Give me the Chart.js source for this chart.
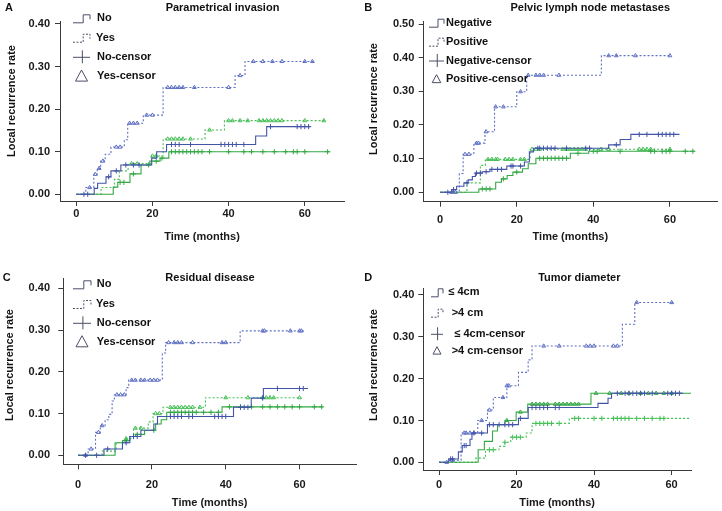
<!DOCTYPE html>
<html>
<head>
<meta charset="utf-8">
<script src="https://cdn.jsdelivr.net/npm/chart.js@4.4.1/dist/chart.umd.min.js"></script>
<style>
html, body { margin: 0; padding: 0; background: #fff; }
#wrap { position: relative; width: 722px; height: 511px; overflow: hidden; }
.panel { position: absolute; }
</style>
</head>
<body>
<div id="wrap">
  <div class="panel" style="left:0;top:0"><canvas id="cA" width="361" height="255"></canvas></div>
  <div class="panel" style="left:361px;top:0"><canvas id="cB" width="361" height="255"></canvas></div>
  <div class="panel" style="left:0;top:255px"><canvas id="cC" width="361" height="256"></canvas></div>
  <div class="panel" style="left:361px;top:255px"><canvas id="cD" width="361" height="256"></canvas></div>
</div>
<script>
// ---- data (time in months, cumulative local recurrence) ----

// A: Parametrical invasion
const A_noBlue_t = [0, 4.7, 5.6, 7.8, 9.1, 11.7, 19.8, 21.1, 23.7, 47.1, 50.0, 61.5];
const A_noBlue_v = [0, 0.014, 0.026, 0.041, 0.055, 0.069, 0.085, 0.100, 0.117, 0.137, 0.159, 0.159];
const A_noBlue_c = [2, 3, 8.5, 10.5, 13, 15, 16.5, 25, 26, 27, 30, 38, 39, 40, 41, 42, 44, 51, 58, 59, 60, 61];
const A_yesBlue_t = [0, 2.5, 4.6, 5.5, 6.4, 7.6, 9.1, 12.6, 13.5, 17.6, 22.8, 41.7, 44.3, 62.5];
const A_yesBlue_v = [0, 0.016, 0.047, 0.061, 0.078, 0.094, 0.111, 0.128, 0.167, 0.186, 0.251, 0.279, 0.312, 0.312];
const A_yesBlue_c = [3.5, 5, 6, 7, 10.5, 11.5, 14, 15, 16, 18.5, 20, 24, 25, 26, 27, 28, 31, 40, 43, 46.5, 49, 51.5, 54, 60, 62];
const A_noGreen_t = [0, 9.7, 10.9, 14.1, 17, 19.3, 22, 24.3, 66.6];
const A_noGreen_v = [0, 0.017, 0.028, 0.048, 0.069, 0.078, 0.085, 0.100, 0.100];
const A_noGreen_c = [11.5, 12.5, 15, 19, 21, 22.5, 25, 26, 27, 28, 29, 30, 31, 32, 33, 35, 40, 44, 46, 49, 52, 55, 57, 58, 60, 66];
const A_yesGreen_t = [0, 6.5, 10, 11.3, 13.6, 19.8, 22.8, 33.8, 38.9, 65.7];
const A_yesGreen_v = [0, 0.016, 0.035, 0.055, 0.072, 0.09, 0.13, 0.151, 0.173, 0.173];
const A_yesGreen_c = [14.5, 16, 20, 21, 24, 25, 26, 27, 28, 30, 35, 40, 41, 43, 45, 48, 49, 50, 51, 52, 53, 54, 60, 65];

// B: Pelvic lymph node metastases
const B_negBlue_t = [0, 3, 4.3, 6.2, 7.3, 8.4, 9.2, 11, 13, 17.4, 22, 23.3, 24.4, 44, 47, 49.8, 62.5];
const B_negBlue_v = [0, 0.008, 0.018, 0.028, 0.037, 0.047, 0.057, 0.061, 0.068, 0.078, 0.09, 0.12, 0.131, 0.141, 0.157, 0.172, 0.172];
const B_negBlue_c = [2, 3.5, 7, 9.5, 10.5, 12, 13.5, 15, 16, 18.5, 19, 21, 25.5, 26, 27, 28, 29, 30, 33, 38, 39, 46, 52, 54, 57, 58, 59, 60, 61];
const B_posBlue_t = [0, 5, 6, 8.8, 11.7, 14.2, 20, 22.6, 42.1, 60.3];
const B_posBlue_v = [0, 0.056, 0.113, 0.146, 0.18, 0.254, 0.299, 0.348, 0.406, 0.406];
const B_posBlue_c = [3, 4, 6.5, 7.5, 9.5, 10, 12, 14.5, 16.5, 21, 23, 25, 26, 27, 31, 44, 46, 51, 60];
const B_negGreen_t = [0, 10.1, 14.5, 16, 17.5, 19, 21.5, 23, 25, 34, 38.8, 66.4];
const B_negGreen_v = [0, 0.010, 0.030, 0.040, 0.05, 0.06, 0.07, 0.085, 0.101, 0.116, 0.122, 0.122];
const B_negGreen_c = [11, 12, 13, 16.5, 20, 26, 27, 28, 29, 30, 31, 32, 33, 36, 40, 41, 47, 55, 56, 58, 59, 60, 64, 66];
const B_posGreen_t = [0, 7, 10.5, 11.8, 23.5, 60.5];
const B_posGreen_v = [0, 0.028, 0.08, 0.098, 0.128, 0.128];
const B_posGreen_c = [12.5, 13.5, 14.5, 15, 17, 18, 19, 21, 22, 24, 25, 26, 32, 33, 34, 35, 36, 37, 38, 42, 44, 52, 53, 54, 55, 60];

// C: Residual disease
const C_noBlue_t = [0, 7, 12, 14, 17, 20.5, 21.5, 42.1, 46.9, 50.2, 62.3];
const C_noBlue_v = [0, 0.015, 0.03, 0.045, 0.06, 0.075, 0.093, 0.115, 0.137, 0.16, 0.16];
const C_noBlue_c = [2, 5, 8, 13, 15, 16, 25, 26, 27, 28, 30, 31, 37, 38, 39, 40, 44, 45, 46, 50, 54, 60, 61];
const C_yesBlue_t = [0, 2.7, 4.7, 6, 7.3, 8.3, 9.2, 9.8, 13, 13.7, 22.8, 23.7, 43.9, 61.4];
const C_yesBlue_v = [0, 0.015, 0.055, 0.071, 0.085, 0.098, 0.13, 0.145, 0.162, 0.18, 0.245, 0.27, 0.298, 0.298];
const C_yesBlue_c = [2, 3.5, 5.5, 6.5, 10.5, 11.5, 12.5, 14.5, 15.5, 17, 18, 19.5, 20.5, 21.5, 24.5, 26, 27, 28, 31, 39, 40, 50, 50.5, 57.5, 60, 60.5];
const C_noGreen_t = [0, 10, 12, 14, 15.5, 18, 21, 22.5, 24, 39, 66.3];
const C_noGreen_v = [0, 0.03, 0.035, 0.045, 0.05, 0.06, 0.075, 0.085, 0.103, 0.116, 0.116];
const C_noGreen_c = [13, 16, 20.5, 25, 26, 27, 28, 29, 30, 31, 32, 34, 36, 38, 41, 44, 47, 50, 52, 54, 56, 58, 60, 64, 66];
const C_yesGreen_t = [0, 6.5, 10.3, 12.5, 15, 19, 20.3, 23, 34.5, 60.5];
const C_yesGreen_v = [0, 0.01, 0.03, 0.04, 0.065, 0.08, 0.10, 0.115, 0.138, 0.138];
const C_yesGreen_c = [13, 15.5, 17, 21, 22, 25, 26, 27, 28, 29, 30, 31, 33, 40, 46, 50, 51, 52, 53, 60];

// D: Tumor diameter
const D_smallBlue_t = [0, 2.5, 5, 6, 8, 8.5, 12.5, 20.5, 23, 41, 43.6, 44.5, 63];
const D_smallBlue_v = [0, 0.008, 0.025, 0.04, 0.055, 0.07, 0.09, 0.105, 0.131, 0.141, 0.153, 0.165, 0.165];
const D_smallBlue_c = [3, 3.5, 6.5, 7, 9, 11, 13, 14, 15.5, 17, 18, 19, 21, 24, 25, 26, 27, 28, 30, 31, 46, 48, 49, 50, 51, 52, 53, 55, 59, 60, 61, 62];
const D_largeBlue_t = [0, 2.7, 5.7, 10, 12.5, 14, 17.5, 20.5, 23, 24, 47.3, 50.5, 60.6];
const D_largeBlue_v = [0, 0.005, 0.07, 0.10, 0.125, 0.155, 0.183, 0.215, 0.245, 0.278, 0.33, 0.382, 0.382];
const D_largeBlue_c = [2, 3.5, 6.5, 7, 8, 9, 11, 13, 16.5, 17.5, 18, 27, 31, 38, 39, 40, 45, 46, 51, 60];
const D_smallGreen_t = [0, 10.1, 11.7, 13.8, 15.1, 17, 19.9, 22.9, 39.2, 65];
const D_smallGreen_v = [0, 0.03, 0.05, 0.075, 0.09, 0.10, 0.12, 0.139, 0.165, 0.165];
const D_smallGreen_c = [17.5, 21, 24, 25, 26, 27, 28, 30, 31, 32, 33, 34, 35, 36, 40.5, 44, 47, 49, 52, 54, 56, 58, 60];
const D_largeGreen_t = [0, 9.5, 12, 15.5, 17, 18.5, 22.5, 24, 33.6, 65];
const D_largeGreen_v = [0, 0.01, 0.03, 0.038, 0.048, 0.06, 0.07, 0.093, 0.105, 0.105];
const D_largeGreen_c = [13, 14, 17, 19, 20, 21, 25, 26, 27, 28, 29, 31, 35, 36, 40, 42, 45, 46, 47, 48, 49, 51, 53, 55, 57, 58];

// ---- drawing ----
const FONT = '"Liberation Sans", Arial, sans-serif';
const AXIS = '#3a3a3a';
const BLUE = '#4354a8', BLUE_DOT = '#5f70c4', GREEN = '#33a844', GREEN_DOT = '#45bf55';
const Y_TITLE = 'Local recurrence rate';

function stepPoints(t, v) {
    return t.map((x, i) => ({ x: x, y: v[i] }));
}

// censor marks sit on the curve at their time
function censorPoints(t, v, c) {
    return c.map(ct => {
        let y = v[0];
        for (let i = 0; i < t.length; i++) if (t[i] <= ct) y = v[i];
        return { x: ct, y: y };
    });
}

function buildDatasets(series) {
    const out = [];
    series.forEach(s => {
        out.push({
            type: 'line',
            data: stepPoints(s.t, s.v),
            stepped: true,
            borderColor: s.color,
            borderWidth: 1.1,
            borderDash: s.dotted ? [2, 2] : [],
            pointRadius: 0,
            fill: false
        });
        out.push({
            type: 'scatter',
            data: censorPoints(s.t, s.v, s.c),
            showLine: false,
            pointStyle: s.mark === 'tri' ? 'triangle' : 'cross',
            pointRadius: s.mark === 'tri' ? 2.2 : 2.6,
            borderColor: s.color,
            backgroundColor: 'rgba(255,255,255,0)',
            pointBorderWidth: 1
        });
    });
    return out;
}

const decorPlugin = {
    id: 'panelDecor',
    afterDraw(chart, args, o) {
        const ctx = chart.ctx;
        ctx.save();
        ctx.fillStyle = '#111';
        ctx.textBaseline = 'middle';
        ctx.font = 'bold 11px ' + FONT;
        ctx.textAlign = 'left';
        ctx.fillText(o.letter, o.letterX, o.letterY);
        ctx.textAlign = 'center';
        ctx.fillText(o.title, o.titleX, o.titleY);

        // y axis title, placed where the original has it
        ctx.save();
        ctx.translate(o.yTitleX, o.yTitleY);
        ctx.rotate(-Math.PI / 2);
        ctx.fillText(Y_TITLE, 0, 0);
        ctx.restore();

        // legend with SPSS-like icons
        ctx.textAlign = 'left';
        const ix = o.iconX, w = o.iconW, tr = o.triHalf;
        o.items.forEach(it => {
            const y = it.y;
            ctx.strokeStyle = '#4a4f66';
            ctx.lineWidth = 1;
            ctx.setLineDash(it.kind === 'dotted' ? [2, 1.5] : []);
            ctx.beginPath();
            if (it.kind === 'solid' || it.kind === 'dotted') {
                const m = ix + w * 0.6;
                ctx.moveTo(ix, y + 4.5);
                ctx.lineTo(m, y + 4.5);
                ctx.lineTo(m, y - 3.5);
                ctx.lineTo(ix + w, y - 3.5);
                ctx.lineTo(ix + w, y + 1);
            } else if (it.kind === 'plus') {
                ctx.moveTo(ix, y);
                ctx.lineTo(ix + w, y);
                ctx.moveTo(ix + w * 0.55, y - 7);
                ctx.lineTo(ix + w * 0.55, y + 6);
            } else {
                const cx = ix + w * 0.5;
                ctx.moveTo(cx, y - tr);
                ctx.lineTo(cx + tr, y + tr * 0.85);
                ctx.lineTo(cx - tr, y + tr * 0.85);
                ctx.closePath();
            }
            ctx.stroke();
            ctx.setLineDash([]);
            ctx.fillText(it.label, it.x, y);
        });
        ctx.restore();
    }
};

function makePanel(id, g, series, decor) {
    const tickFont = { family: FONT, size: 11, weight: 'bold' };
    new Chart(document.getElementById(id), {
        type: 'line',
        data: { datasets: buildDatasets(series) },
        options: {
            responsive: false,
            animation: false,
            devicePixelRatio: 1,
            layout: { padding: { left: 0, top: g.T, right: g.W - g.R, bottom: 0 } },
            plugins: {
                legend: { display: false },
                tooltip: { enabled: false },
                panelDecor: decor
            },
            scales: {
                x: {
                    type: 'linear',
                    min: g.xMin,
                    max: g.xMax,
                    ticks: { stepSize: 20, includeBounds: false, font: tickFont, color: '#1a1a1a', padding: g.xLabPad, maxRotation: 0 },
                    grid: { drawOnChartArea: false, drawTicks: true, tickLength: 5, color: AXIS },
                    border: { display: true, color: AXIS, width: 1 },
                    title: { display: true, text: 'Time (months)', font: tickFont, color: '#1a1a1a', padding: { top: 0, bottom: g.xTitlePad } },
                    afterFit: s => { s.height = g.H - g.B; }
                },
                y: {
                    type: 'linear',
                    min: g.yMin,
                    max: g.yMax,
                    ticks: { stepSize: 0.1, includeBounds: false, font: tickFont, color: '#1a1a1a', padding: g.yLabPad,
                             callback: v => v.toFixed(2) },
                    grid: { drawOnChartArea: false, drawTicks: true, tickLength: 5, color: AXIS },
                    border: { display: true, color: AXIS, width: 1 },
                    title: { display: false },
                    afterFit: s => { s.width = g.L; }
                }
            }
        },
        plugins: [decorPlugin]
    });
}

// Panel A
makePanel('cA',
    { W: 361, H: 255, L: 60, R: 344, T: 21, B: 201, xMin: -4.28, xMax: 70.3, yMin: -0.0157, yMax: 0.407,
      xLabPad: 1, xTitlePad: 11, yLabPad: 5 },
    [
        { t: A_noBlue_t, v: A_noBlue_v, c: A_noBlue_c, color: BLUE, dotted: false, mark: 'plus' },
        { t: A_yesBlue_t, v: A_yesBlue_v, c: A_yesBlue_c, color: BLUE_DOT, dotted: true, mark: 'tri' },
        { t: A_noGreen_t, v: A_noGreen_v, c: A_noGreen_c, color: GREEN, dotted: false, mark: 'plus' },
        { t: A_yesGreen_t, v: A_yesGreen_v, c: A_yesGreen_c, color: GREEN_DOT, dotted: true, mark: 'tri' }
    ],
    { letter: 'A', letterX: 5, letterY: 7.5, title: 'Parametrical invasion', titleX: 222.5, titleY: 7.5,
      yTitleX: 11.7, yTitleY: 101,
      iconX: 73, iconW: 17, triHalf: 6,
      items: [
          { kind: 'solid', label: 'No', x: 97, y: 18.3 },
          { kind: 'dotted', label: 'Yes', x: 96, y: 37.7 },
          { kind: 'plus', label: 'No-censor', x: 97, y: 57.3 },
          { kind: 'tri', label: 'Yes-censor', x: 97, y: 76 }
      ] });

// Panel B
makePanel('cB',
    { W: 361, H: 255, L: 62.7, R: 358.3, T: 21, B: 201.7, xMin: -4.3, xMax: 72.3, yMin: -0.0279, yMax: 0.509,
      xLabPad: 7, xTitlePad: 11, yLabPad: 4.4 },
    [
        { t: B_negBlue_t, v: B_negBlue_v, c: B_negBlue_c, color: BLUE, dotted: false, mark: 'plus' },
        { t: B_posBlue_t, v: B_posBlue_v, c: B_posBlue_c, color: BLUE_DOT, dotted: true, mark: 'tri' },
        { t: B_negGreen_t, v: B_negGreen_v, c: B_negGreen_c, color: GREEN, dotted: false, mark: 'plus' },
        { t: B_posGreen_t, v: B_posGreen_v, c: B_posGreen_c, color: GREEN_DOT, dotted: true, mark: 'tri' }
    ],
    { letter: 'B', letterX: 3.3, letterY: 7.5, title: 'Pelvic lymph node metastases', titleX: 229.3, titleY: 7.5,
      yTitleX: 12.7, yTitleY: 99,
      iconX: 68, iconW: 15, triHalf: 4.3,
      items: [
          { kind: 'solid', label: 'Negative', x: 85, y: 22.7 },
          { kind: 'dotted', label: 'Positive', x: 85, y: 41.7 },
          { kind: 'plus', label: 'Negative-censor', x: 85, y: 61 },
          { kind: 'tri', label: 'Positive-censor', x: 85, y: 79 }
      ] });

// Panel C
makePanel('cC',
    { W: 361, H: 256, L: 63.3, R: 360, T: 23.3, B: 209.3, xMin: -4.03, xMax: 75.3, yMin: -0.0216, yMax: 0.424,
      xLabPad: 9, xTitlePad: 1, yLabPad: 8.3 },
    [
        { t: C_noBlue_t, v: C_noBlue_v, c: C_noBlue_c, color: BLUE, dotted: false, mark: 'plus' },
        { t: C_yesBlue_t, v: C_yesBlue_v, c: C_yesBlue_c, color: BLUE_DOT, dotted: true, mark: 'tri' },
        { t: C_noGreen_t, v: C_noGreen_v, c: C_noGreen_c, color: GREEN, dotted: false, mark: 'plus' },
        { t: C_yesGreen_t, v: C_yesGreen_v, c: C_yesGreen_c, color: GREEN_DOT, dotted: true, mark: 'tri' }
    ],
    { letter: 'C', letterX: 2.7, letterY: 23.3, title: 'Residual disease', titleX: 210, titleY: 23.3,
      yTitleX: 10, yTitleY: 110,
      iconX: 73, iconW: 18, triHalf: 6,
      items: [
          { kind: 'solid', label: 'No', x: 96.7, y: 29.3 },
          { kind: 'dotted', label: 'Yes', x: 96, y: 49 },
          { kind: 'plus', label: 'No-censor', x: 96.7, y: 68.3 },
          { kind: 'tri', label: 'Yes-censor', x: 96.7, y: 86.7 }
      ] });

// Panel D
makePanel('cD',
    { W: 361, H: 256, L: 62.3, R: 330, T: 33.3, B: 215, xMin: -4.05, xMax: 65, yMin: -0.0184, yMax: 0.416,
      xLabPad: 3.4, xTitlePad: 1, yLabPad: 4 },
    [
        { t: D_smallBlue_t, v: D_smallBlue_v, c: D_smallBlue_c, color: BLUE, dotted: false, mark: 'plus' },
        { t: D_largeBlue_t, v: D_largeBlue_v, c: D_largeBlue_c, color: BLUE_DOT, dotted: true, mark: 'tri' },
        { t: D_smallGreen_t, v: D_smallGreen_v, c: D_smallGreen_c, color: GREEN, dotted: false, mark: 'tri' },
        { t: D_largeGreen_t, v: D_largeGreen_v, c: D_largeGreen_c, color: GREEN_DOT, dotted: true, mark: 'plus' }
    ],
    { letter: 'D', letterX: 3.3, letterY: 23, title: 'Tumor diameter', titleX: 218.3, titleY: 23.3,
      yTitleX: 12.7, yTitleY: 110,
      iconX: 70, iconW: 12, triHalf: 4,
      items: [
          { kind: 'solid', label: '≤ 4cm', x: 87.3, y: 37.3 },
          { kind: 'dotted', label: '>4 cm', x: 90.7, y: 57.7 },
          { kind: 'plus', label: '≤ 4cm-censor', x: 93.3, y: 79.3 },
          { kind: 'tri', label: '>4 cm-censor', x: 90.7, y: 95.7 }
      ] });
</script>
</body>
</html>
